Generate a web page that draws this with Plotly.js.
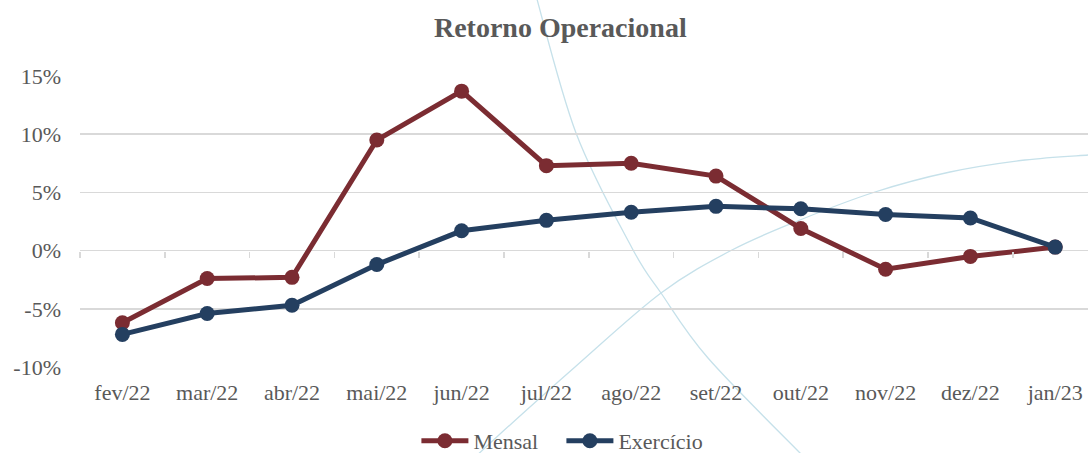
<!DOCTYPE html>
<html>
<head>
<meta charset="utf-8">
<script src="https://cdn.plot.ly/plotly-3.0.1.min.js"></script>
<style>html,body{margin:0;padding:0;background:#fff;}#chart{width:1088px;height:453px;}</style>
</head>
<body>
<div id="chart"></div>
<script>
// ---- data ----
var months = ["fev/22","mar/22","abr/22","mai/22","jun/22","jul/22","ago/22","set/22","out/22","nov/22","dez/22","jan/23"];
var mensal = [-6.2, -2.4, -2.3, 9.5, 13.7, 7.3, 7.5, 6.4, 1.9, -1.6, -0.5, 0.3];
var exercicio = [-7.2, -5.4, -4.7, -1.2, 1.7, 2.6, 3.3, 3.8, 3.6, 3.1, 2.8, 0.3];
var yTicks = [-10, -5, 0, 5, 10, 15];
var yTickLabels = ["-10%", "-5%", "0%", "5%", "10%", "15%"];
var seriesNames = ["Mensal", "Exercício"];

// ---- layout constants ----
var W = 1088, H = 453;
var M = {l: 80, r: 0, t: 76, b: 86};
var plotW = W - M.l - M.r, plotH = H - M.t - M.b;
var catStep = 84.8;
var xMax = -0.5 + plotW / catStep;
var FONT = "Liberation Serif, Times New Roman, serif";
var GRID = "#d9d9d9";
var TXT = "#595959";
var LEGEND_SHIFT = 9;

// decorative background arcs (pixel positions -> paper coords)
function toPaper(p){ return [(p[0]-M.l)/plotW, (H-M.b-p[1])/plotH]; }
function smoothPath(pts){
  var P = pts.map(toPaper);
  var d = "M" + P[0][0] + "," + P[0][1];
  for (var i = 0; i < P.length - 1; i++) {
    var p0 = P[i-1] || P[i], p1 = P[i], p2 = P[i+1], p3 = P[i+2] || P[i+1];
    var c1 = [p1[0] + (p2[0]-p0[0])/6, p1[1] + (p2[1]-p0[1])/6];
    var c2 = [p2[0] - (p3[0]-p1[0])/6, p2[1] - (p3[1]-p1[1])/6];
    d += " C" + c1[0] + "," + c1[1] + " " + c2[0] + "," + c2[1] + " " + p2[0] + "," + p2[1];
  }
  return d;
}
var arcDown = [[535,-8],[576,133],[632,248],[661,293],[708,358],[800,453],[810,462]];
var arcUp = [[470,462],[500,434],[575,367],[661,293],[732,250],[800,220],[875,192],[950,172],[1025,160],[1088,155]];

var bounds = months.map(function(_, i){ return i - 0.5; });

var traces = [
  {x: months, y: mensal, name: seriesNames[0], type: "scatter", mode: "lines+markers",
   line: {color: "#7B2C32", width: 5}, marker: {color: "#7B2C32", size: 15}, cliponaxis: false},
  {x: months, y: exercicio, name: seriesNames[1], type: "scatter", mode: "lines+markers",
   line: {color: "#243F60", width: 5}, marker: {color: "#243F60", size: 15}, cliponaxis: false},
  {x: [null], y: [null], xaxis: "x2", yaxis: "y", showlegend: false, hoverinfo: "skip", mode: "lines"}
];

var layout = {
  width: W, height: H,
  margin: M,
  paper_bgcolor: "#ffffff",
  plot_bgcolor: "rgba(0,0,0,0)",
  font: {family: FONT, size: 22, color: TXT},
  title: {text: "<b>Retorno Operacional</b>", font: {family: FONT, size: 28, color: TXT},
          xref: "container", x: 0.515, xanchor: "center", yref: "container", y: 0.94, yanchor: "middle"},
  xaxis: {type: "category", range: [-0.5, xMax], showgrid: false, zeroline: false, showline: false,
          ticks: "", tickfont: {family: FONT, size: 22, color: TXT}, ticklabelstandoff: 10},
  xaxis2: {overlaying: "x", anchor: "free", position: 10/25, side: "bottom", range: [-0.5, xMax],
           tickmode: "array", tickvals: bounds, ticks: "outside", ticklen: 6, tickwidth: 1.5, tickcolor: GRID,
           showticklabels: false, showgrid: false, zeroline: false, showline: false},
  yaxis: {range: [-10, 15], tickmode: "array", tickvals: yTicks, ticktext: yTickLabels,
          showgrid: true, gridcolor: GRID, gridwidth: 1.5, zeroline: true, zerolinecolor: GRID, zerolinewidth: 1.5,
          showline: false, ticks: "", tickfont: {family: FONT, size: 22, color: TXT}, ticklabelstandoff: 18},
  legend: {orientation: "h", xref: "container", yref: "container", x: 0.516, xanchor: "center",
           y: 0, yanchor: "bottom", bgcolor: "rgba(255,255,255,0)",
           font: {family: FONT, size: 22, color: TXT}, itemwidth: 47, entrywidth: 83, entrywidthmode: "pixels"},
  shapes: [
    {type: "path", xref: "paper", yref: "paper", layer: "below", path: smoothPath(arcDown),
     line: {color: "#c6e1ea", width: 1.3}},
    {type: "path", xref: "paper", yref: "paper", layer: "below", path: smoothPath(arcUp),
     line: {color: "#c6e1ea", width: 1.3}}
  ],
  showlegend: true
};

Plotly.newPlot("chart", traces, layout, {displayModeBar: false, staticPlot: true}).then(function(gd){
  var bgs = gd.querySelectorAll(".legend rect.bg");
  for (var i = 0; i < bgs.length; i++) { bgs[i].style.fill = "none"; }
  var leg = gd.querySelector("g.legend");
  if (leg) {
    var t = leg.getAttribute("transform") || "";
    var m = /translate\(\s*([-\d.e]+)[ ,]+([-\d.e]+)\s*\)/.exec(t);
    if (m) leg.setAttribute("transform", "translate(" + m[1] + "," + (parseFloat(m[2]) + LEGEND_SHIFT) + ")");
  }
});
</script>
</body>
</html>
